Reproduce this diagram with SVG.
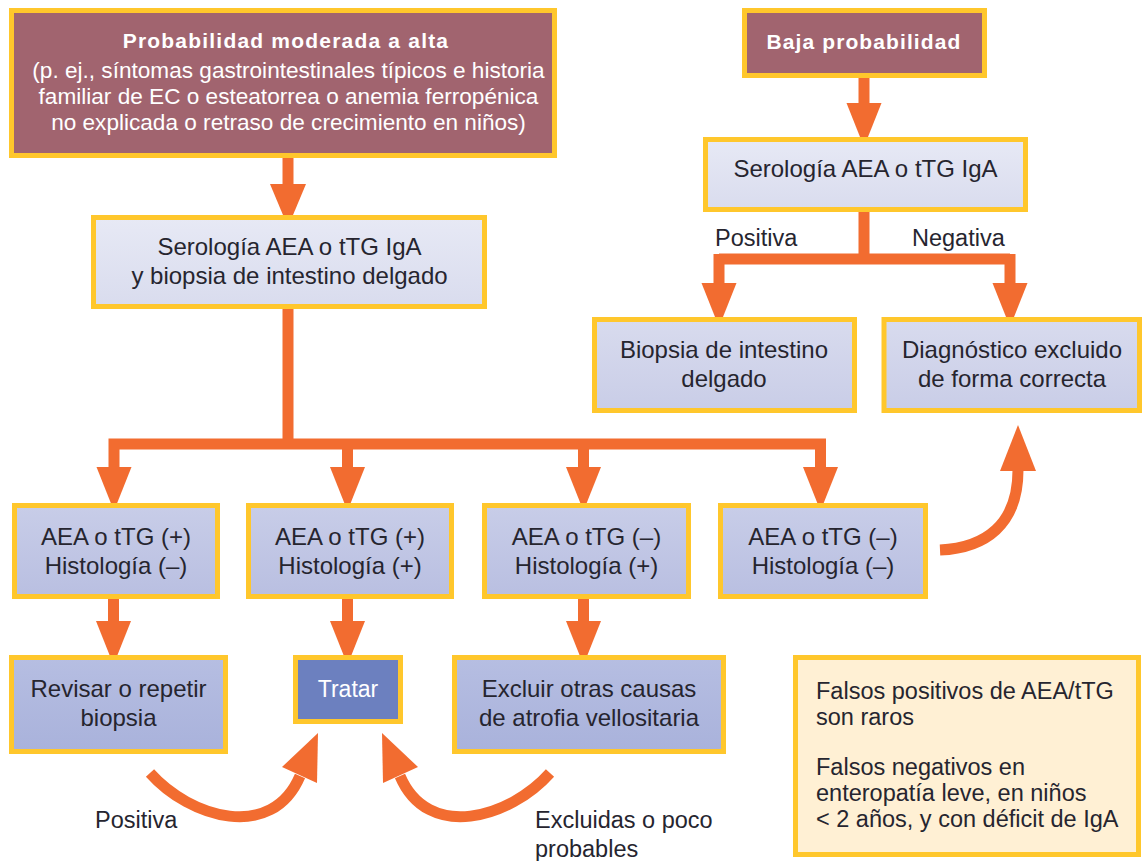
<svg xmlns="http://www.w3.org/2000/svg" width="1142" height="861" viewBox="0 0 1142 861">
<style>
.bx{stroke:#FFC72C;stroke-width:5}
.t{font-family:"Liberation Sans",Arial,sans-serif;font-size:24px;fill:#26252f;text-anchor:middle}
.w{font-family:"Liberation Sans",Arial,sans-serif;fill:#ffffff;text-anchor:middle}
.lb{font-family:"Liberation Sans",Arial,sans-serif;font-size:23.5px;fill:#26252f}
.sh{stroke:#F26C30;stroke-width:11;fill:none}
.hd{fill:#F26C30}
</style>
<defs>
<linearGradient id="g1" x1="0" y1="0" x2="0" y2="1"><stop offset="0" stop-color="#E7E9F5"/><stop offset="1" stop-color="#D9DCEE"/></linearGradient>
<linearGradient id="g2" x1="0" y1="0" x2="0" y2="1"><stop offset="0" stop-color="#D8DBEE"/><stop offset="1" stop-color="#C9CDE7"/></linearGradient>
<linearGradient id="g3" x1="0" y1="0" x2="0" y2="1"><stop offset="0" stop-color="#C8CDE8"/><stop offset="1" stop-color="#B9BFE1"/></linearGradient>
<linearGradient id="g4" x1="0" y1="0" x2="0" y2="1"><stop offset="0" stop-color="#B6BEE2"/><stop offset="1" stop-color="#A9B2DB"/></linearGradient>
</defs>
<rect width="1142" height="861" fill="#ffffff"/>

<g id="connectors">
<line class="sh" x1="288" y1="158" x2="288" y2="186"/>
<polygon class="hd" points="270,184 306,184 288,227"/>
<line class="sh" x1="864" y1="77" x2="864" y2="105"/>
<polygon class="hd" points="846.5,103 881.5,103 864,147"/>
<path class="sh" d="M864,211 V259 M719,259 H1010 M719,254 V285 M1010,254 V285"/>
<polygon class="hd" points="701.5,283 736.5,283 719,327"/>
<polygon class="hd" points="992.5,283 1027.5,283 1010,327"/>
<path class="sh" d="M288,309 V444 M108.5,444 H826 M114,439 V470 M347.5,444 V470 M583.5,444 V470 M820.5,439 V470"/>
<polygon class="hd" points="96.5,467 131.5,467 114,511"/>
<polygon class="hd" points="330,467 365,467 347.5,511"/>
<polygon class="hd" points="566,467 601,467 583.5,511"/>
<polygon class="hd" points="803,467 838,467 820.5,511"/>
<line class="sh" x1="113.5" y1="599" x2="113.5" y2="624"/>
<polygon class="hd" points="96,621 131,621 113.5,665"/>
<line class="sh" x1="347.5" y1="599" x2="347.5" y2="624"/>
<polygon class="hd" points="330,621 365,621 347.5,665"/>
<line class="sh" x1="583.5" y1="599" x2="583.5" y2="624"/>
<polygon class="hd" points="566,621 601,621 583.5,665"/>
<path class="sh" d="M150,773 C190,818 272,842 300,776"/>
<polygon class="hd" points="318,733 282,767 317,783"/>
<path class="sh" d="M550,773 C510,818 428,842 400,776"/>
<polygon class="hd" points="382,733 418,767 383,783"/>
<path class="sh" d="M940,550 C985,548 1018,525 1018,470"/>
<polygon class="hd" points="1018,425 1000,471 1036,471"/>
</g>

<g id="nodeA">
<rect class="bx" x="11.5" y="10.5" width="543" height="145" fill="#A1646F"/>
<text class="w" x="286" y="48" font-size="21" font-weight="bold" letter-spacing="1.2">Probabilidad moderada a alta</text>
<text class="w" x="288.5" y="78" font-size="22.6">(p. ej., síntomas gastrointestinales típicos e historia</text>
<text class="w" x="288.5" y="104" font-size="22.6">familiar de EC o esteatorrea o anemia ferropénica</text>
<text class="w" x="288.5" y="130" font-size="22.6">no explicada o retraso de crecimiento en niños)</text>
</g>

<g id="nodeB">
<rect class="bx" x="744.5" y="10.5" width="240" height="65" fill="#A1646F"/>
<text class="w" x="864" y="49" font-size="21" font-weight="bold" letter-spacing="1.1">Baja probabilidad</text>
</g>

<g id="nodeC">
<rect class="bx" x="705.5" y="139.5" width="320" height="70" fill="url(#g1)"/>
<text class="t" x="865.5" y="177">Serología AEA o tTG IgA</text>
</g>

<g id="nodeSer">
<rect class="bx" x="93.5" y="217.5" width="391" height="89" fill="url(#g1)"/>
<text class="t" x="289.5" y="255">Serología AEA o tTG IgA</text>
<text class="t" x="289.5" y="284">y biopsia de intestino delgado</text>
</g>

<g id="labelsRight">
<text class="lb" x="715" y="246">Positiva</text>
<text class="lb" x="912" y="246">Negativa</text>
</g>

<g id="nodeD">
<rect class="bx" x="594.5" y="319.5" width="260" height="91" fill="url(#g2)"/>
<text class="t" x="724" y="358">Biopsia de intestino</text>
<text class="t" x="724" y="387">delgado</text>
</g>

<g id="nodeE">
<rect class="bx" x="884" y="319.5" width="255.5" height="91" fill="url(#g2)"/>
<text class="t" x="1012" y="358">Diagnóstico excluido</text>
<text class="t" x="1012" y="387">de forma correcta</text>
</g>

<g id="nodeR1">
<rect class="bx" x="14.5" y="505.5" width="203" height="91" fill="url(#g3)"/>
<text class="t" x="116" y="545">AEA o tTG (+)</text>
<text class="t" x="116" y="574">Histología (–)</text>
</g>
<g id="nodeR2">
<rect class="bx" x="248.5" y="505.5" width="203" height="91" fill="url(#g3)"/>
<text class="t" x="350" y="545">AEA o tTG (+)</text>
<text class="t" x="350" y="574">Histología (+)</text>
</g>
<g id="nodeR3">
<rect class="bx" x="484.5" y="505.5" width="204" height="91" fill="url(#g3)"/>
<text class="t" x="586.5" y="545">AEA o tTG (–)</text>
<text class="t" x="586.5" y="574">Histología (+)</text>
</g>
<g id="nodeR4">
<rect class="bx" x="720.5" y="505.5" width="205" height="91" fill="url(#g3)"/>
<text class="t" x="823" y="545">AEA o tTG (–)</text>
<text class="t" x="823" y="574">Histología (–)</text>
</g>

<g id="nodeRevisar">
<rect class="bx" x="11.5" y="657.5" width="214" height="94" fill="url(#g4)"/>
<text class="t" x="118.5" y="697">Revisar o repetir</text>
<text class="t" x="118.5" y="726">biopsia</text>
</g>
<g id="nodeTratar">
<rect class="bx" x="295.5" y="657.5" width="105" height="64" fill="#6C80BF"/>
<text class="w" x="348" y="697" font-size="23">Tratar</text>
</g>
<g id="nodeExcluir">
<rect class="bx" x="454.5" y="657.5" width="269" height="94" fill="url(#g4)"/>
<text class="t" x="589" y="697">Excluir otras causas</text>
<text class="t" x="589" y="726">de atrofia vellositaria</text>
</g>

<g id="labelsBottom">
<text class="lb" x="95" y="828">Positiva</text>
<text class="lb" x="535" y="828">Excluidas o poco</text>
<text class="lb" x="535" y="857">probables</text>
</g>

<g id="nodeNote">
<rect class="bx" x="795.5" y="657.5" width="343" height="197" fill="#FFF0D4"/>
<text class="lb" x="816" y="699">Falsos positivos de AEA/tTG</text>
<text class="lb" x="816" y="725">son raros</text>
<text class="lb" x="816" y="775">Falsos negativos en</text>
<text class="lb" x="816" y="801">enteropatía leve, en niños</text>
<text class="lb" x="816" y="827">&lt; 2 años, y con déficit de IgA</text>
</g>
</svg>
